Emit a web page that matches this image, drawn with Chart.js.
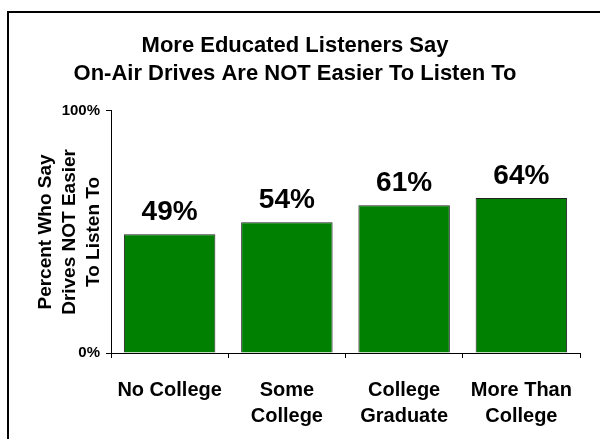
<!DOCTYPE html>
<html>
<head>
<meta charset="utf-8">
<script src="https://cdn.jsdelivr.net/npm/chart.js@4"></script>
<style>
  html, body { margin: 0; padding: 0; background: #fff; }
  canvas { display: block; }
</style>
</head>
<body>
<canvas id="chart" width="600" height="439"></canvas>
<script>
// data
const categories = [['No College'], ['Some', 'College'], ['College', 'Graduate'], ['More Than', 'College']];
const percents = [49, 54, 61, 64];
const yTicks = [0, 100];
const titleLines = ['More Educated Listeners Say', 'On-Air Drives Are NOT Easier To Listen To'];
const yTitleLines = ['Percent Who Say', 'Drives NOT Easier', 'To Listen To'];

const FONT = 'Arial, "Liberation Sans", Helvetica, sans-serif';

// outer frame
const framePlugin = {
  id: 'frame',
  beforeDraw(chart) {
    const ctx = chart.ctx;
    ctx.save();
    ctx.fillStyle = '#fff';
    ctx.fillRect(0, 0, chart.width, chart.height);
    ctx.strokeStyle = '#000';
    ctx.lineWidth = 2;
    ctx.strokeRect(8, 12, 700, 600);
    ctx.restore();
  }
};

// value labels above bars
const valueLabels = {
  id: 'valueLabels',
  afterDatasetsDraw(chart) {
    const ctx = chart.ctx;
    const meta = chart.getDatasetMeta(0);
    ctx.save();
    ctx.font = 'bold 28px ' + FONT;
    ctx.fillStyle = '#000';
    ctx.textAlign = 'center';
    ctx.textBaseline = 'bottom';
    meta.data.forEach((bar, i) => {
      ctx.fillText(percents[i] + '%', bar.x, bar.y - 8);
    });
    ctx.restore();
  }
};

const ctx = document.getElementById('chart');
new Chart(ctx, {
  type: 'bar',
  data: {
    labels: categories,
    datasets: [{
      data: percents,
      backgroundColor: '#008000',
      borderColor: '#222',
      borderWidth: 1,
      barPercentage: 0.78,
      categoryPercentage: 1.0
    }]
  },
  options: {
    responsive: false,
    animation: false,
    layout: { padding: { left: 10, right: 20, top: 0, bottom: 0 } },
    plugins: {
      legend: { display: false },
      tooltip: { enabled: false },
      title: {
        display: true,
        text: titleLines,
        color: '#000',
        font: { family: FONT, size: 22, weight: 'bold', lineHeight: 1.27 },
        padding: { top: 32, bottom: 23 }
      }
    },
    scales: {
      x: {
        offset: true,
        grid: {
          offset: true,
          drawOnChartArea: false,
          drawTicks: true,
          tickLength: 5,
          color: '#000'
        },
        border: { display: true, color: '#000', width: 1 },
        ticks: {
          color: '#000',
          maxRotation: 0,
          autoSkip: false,
          padding: 19,
          font: { family: FONT, size: 20, weight: 'bold', lineHeight: 1.3 }
        },
        afterFit(scale) { scale.height = 86; }
      },
      y: {
        min: 0,
        max: 100,
        afterBuildTicks(scale) { scale.ticks = yTicks.map(v => ({ value: v })); },
        grid: {
          drawOnChartArea: false,
          drawTicks: true,
          tickLength: 5,
          color: '#000'
        },
        border: { display: true, color: '#000', width: 1 },
        ticks: {
          color: '#000',
          padding: 6,
          font: { family: FONT, size: 15, weight: 'bold' },
          callback: v => v + '%'
        },
        title: {
          display: true,
          text: yTitleLines,
          color: '#000',
          font: { family: FONT, size: 19, weight: 'bold', lineHeight: 1.25 },
          padding: { top: 24, bottom: 0 }
        },
        afterFit(scale) { scale.width = 101; }
      }
    }
  },
  plugins: [framePlugin, valueLabels]
});
</script>
</body>
</html>
